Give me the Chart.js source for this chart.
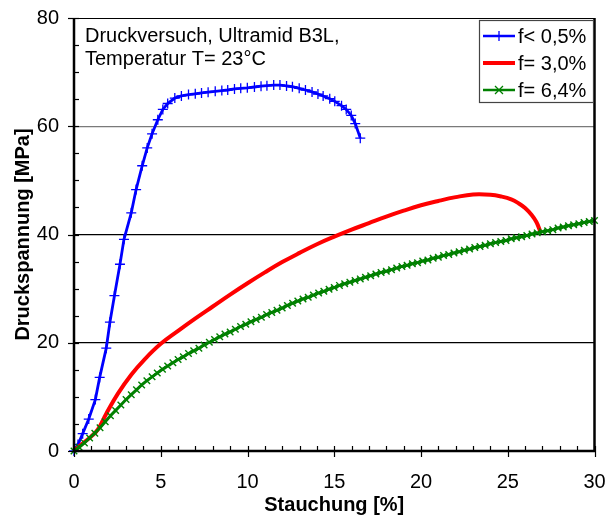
<!DOCTYPE html>
<html>
<head>
<meta charset="utf-8">
<script src="https://cdn.jsdelivr.net/npm/chart.js@4/dist/chart.umd.min.js"></script>
<style>
  html, body { margin: 0; padding: 0; background: #fff; }
  #wrap { width: 615px; height: 517px; }
</style>
</head>
<body>
<div id="wrap"><canvas id="c" width="615" height="517"></canvas></div>
<script>
// ---- Data ----
const seriesNames = ['f< 0,5%', 'f= 3,0%', 'f= 6,4%'];
const annotationLines = ['Druckversuch, Ultramid B3L,', 'Temperatur T= 23°C'];
const xTitle = 'Stauchung [%]';
const yTitle = 'Druckspannung [MPa]';
const xTickLabels = [0, 5, 10, 15, 20, 25, 30];
const yTickLabels = [0, 20, 40, 60, 80];

// f< 0,5 % (blue, + markers)
const blueX = [0, 0.23, 0.5, 0.85, 1.23, 1.48, 1.86, 2.07, 2.33, 2.65, 2.88, 3.3, 3.58, 3.93, 4.22, 4.5, 4.83, 5.12, 5.4, 5.81,
  6.19, 6.6, 6.99, 7.35, 7.73, 8.14, 8.52, 8.86, 9.25, 9.61, 9.99, 10.4, 10.78, 11.12, 11.51, 11.87, 12.25, 12.59, 12.98, 13.34,
  13.72, 14.06, 14.36, 14.74, 15.03, 15.42, 15.69, 15.98, 16.21, 16.5];
const blueY = [0, 1.2, 3.2, 5.9, 9.5, 13.6, 19.0, 23.8, 28.7, 34.5, 39.1, 44.0, 48.3, 52.7, 56.0, 58.6, 61.2, 63.1, 64.2, 65.2,
  65.6, 65.85, 66.0, 66.15, 66.3, 66.45, 66.6, 66.7, 66.9, 67.0, 67.1, 67.25, 67.4, 67.5, 67.6, 67.6, 67.45, 67.3, 67.0, 66.7,
  66.35, 65.95, 65.6, 65.1, 64.6, 63.8, 63.1, 62.0, 60.5, 57.8];

// f= 3,0 % (red, line only)
const redX = [0, 0.42, 1.0, 1.38, 1.86, 2.53, 3.3, 4.06, 5.0, 6.0, 7.0, 8.0, 9.0, 10.0, 11.0, 12.0, 13.0, 14.0, 15.0, 16.0,
  17.0, 18.0, 19.0, 20.0, 21.0, 22.0, 23.0, 24.0, 24.66, 25.2, 25.61, 26.0, 26.38, 26.65, 26.86];
const redY = [0, 1.2, 2.7, 4.0, 6.9, 10.6, 14.1, 16.9, 19.8, 22.2, 24.5, 26.7, 28.9, 31.0, 33.0, 34.9, 36.6, 38.2, 39.6, 40.9,
  42.1, 43.3, 44.4, 45.4, 46.2, 46.9, 47.4, 47.35, 47.0, 46.5, 45.8, 44.9, 43.6, 42.3, 40.7];

// f= 6,4 % (green, x markers)
const greenX = [0, 0.3, 0.6, 0.9, 1.2, 1.5, 1.8, 2.1, 2.4, 2.7, 3.0, 3.3, 3.6, 3.9, 4.2, 4.5, 4.8, 5.1, 5.4, 5.7,
  6.0, 6.3, 6.6, 6.9, 7.2, 7.5, 7.8, 8.1, 8.4, 8.7, 9.0, 9.3, 9.6, 9.9, 10.2, 10.5, 10.8, 11.1, 11.4, 11.7,
  12.0, 12.3, 12.6, 12.9, 13.2, 13.5, 13.8, 14.1, 14.4, 14.7, 15.0, 15.3, 15.6, 15.9, 16.2, 16.5, 16.8, 17.1, 17.4, 17.7,
  18.0, 18.3, 18.6, 18.9, 19.2, 19.5, 19.8, 20.1, 20.4, 20.7, 21.0, 21.3, 21.6, 21.9, 22.2, 22.5, 22.8, 23.1, 23.4, 23.7,
  24.0, 24.3, 24.6, 24.9, 25.2, 25.5, 25.8, 26.1, 26.4, 26.7, 27.0, 27.3, 27.6, 27.9, 28.2, 28.5, 28.8, 29.1, 29.4, 29.7, 30.0];
const greenY = [0, 0.7, 1.5, 2.4, 3.3, 4.3, 5.4, 6.5, 7.5, 8.5, 9.5, 10.4, 11.3, 12.2, 13.0, 13.7, 14.4, 15.1, 15.7, 16.3,
  16.9, 17.4, 18.0, 18.5, 19.0, 19.6, 20.1, 20.6, 21.1, 21.6, 22.0, 22.5, 23.0, 23.4, 23.9, 24.3, 24.7, 25.2, 25.6, 26.0,
  26.4, 26.9, 27.3, 27.7, 28.1, 28.4, 28.8, 29.2, 29.5, 29.9, 30.2, 30.6, 30.9, 31.2, 31.5, 31.8, 32.1, 32.4, 32.7, 33.0,
  33.2, 33.5, 33.8, 34.1, 34.3, 34.6, 34.8, 35.1, 35.3, 35.6, 35.8, 36.1, 36.3, 36.6, 36.8, 37.1, 37.3, 37.6, 37.8, 38.0,
  38.3, 38.5, 38.7, 38.9, 39.2, 39.4, 39.6, 39.8, 40.1, 40.3, 40.5, 40.7, 40.9, 41.2, 41.4, 41.6, 41.8, 42.0, 42.2, 42.4, 42.6];

const toXY = (xs, ys) => xs.map((x, i) => ({ x: x, y: ys[i] }));

const FONT = "'Liberation Sans', Arial, sans-serif";
Chart.defaults.font.family = FONT;
Chart.defaults.font.size = 20;
Chart.defaults.color = '#000';

const COLORS = ['#0000FF', '#FF0000', '#008000'];

const decorPlugin = {
  id: 'decor',
  afterDraw(chart) {
    const ctx = chart.ctx;
    const xs = chart.scales.x, ys = chart.scales.y;
    const a = chart.chartArea;
    ctx.save();
    // frame
    ctx.strokeStyle = '#000';
    ctx.lineWidth = 1.2;
    ctx.beginPath(); ctx.moveTo(a.left, a.top + 0.5); ctx.lineTo(a.right, a.top + 0.5); ctx.stroke();
    ctx.lineWidth = 2.5;
    ctx.beginPath();
    ctx.moveTo(a.left, a.top); ctx.lineTo(a.left, a.bottom); ctx.lineTo(a.right, a.bottom); ctx.lineTo(a.right, a.top);
    ctx.stroke();
    // tick marks
    ctx.lineWidth = 1.2;
    for (let v = 0; v <= 80; v += 5) {
      const p = Math.round(ys.getPixelForValue(v)) + 0.5;
      const major = yTickLabels.includes(v);
      ctx.beginPath();
      ctx.moveTo(a.left - (major ? 6 : 0), p);
      ctx.lineTo(a.left + 5, p);
      ctx.stroke();
    }
    for (let v = 0; v <= 30; v += 1) {
      const p = Math.round(xs.getPixelForValue(v)) + 0.5;
      const major = xTickLabels.includes(v);
      ctx.beginPath();
      ctx.moveTo(p, a.bottom - 5);
      ctx.lineTo(p, a.bottom + (major ? 6 : 0));
      ctx.stroke();
    }
    // annotation text
    ctx.fillStyle = '#000';
    ctx.font = '20px ' + FONT;
    ctx.textBaseline = 'middle';
    ctx.textAlign = 'left';
    ctx.fillText(annotationLines[0], 85, 36);
    ctx.fillText(annotationLines[1], 85, 59);
    // legend box
    const bx = 479.5, by = 20.5, bw = 114, bh = 82;
    ctx.fillStyle = '#fff';
    ctx.fillRect(bx, by, bw, bh);
    ctx.strokeStyle = '#444';
    ctx.lineWidth = 1.2;
    ctx.strokeRect(bx, by, bw, bh);
    const rowY = [36, 63, 90];
    const lw = [2.5, 4, 2.5];
    for (let i = 0; i < 3; i++) {
      const y = rowY[i];
      ctx.strokeStyle = COLORS[i];
      ctx.lineWidth = lw[i];
      ctx.beginPath(); ctx.moveTo(483, y); ctx.lineTo(515, y); ctx.stroke();
      ctx.lineWidth = 1.3;
      if (i === 0) {
        ctx.beginPath(); ctx.moveTo(499, y - 5); ctx.lineTo(499, y + 5); ctx.moveTo(494, y); ctx.lineTo(504, y); ctx.stroke();
      } else if (i === 2) {
        ctx.beginPath(); ctx.moveTo(495, y - 4); ctx.lineTo(503, y + 4); ctx.moveTo(503, y - 4); ctx.lineTo(495, y + 4); ctx.stroke();
      }
      ctx.fillStyle = '#000';
      ctx.fillText(seriesNames[i], 518, y + 1);
    }
    ctx.restore();
  }
};

new Chart(document.getElementById('c'), {
  type: 'scatter',
  data: {
    datasets: [
      {
        label: seriesNames[0], data: toXY(blueX, blueY), showLine: true,
        borderColor: COLORS[0], backgroundColor: COLORS[0], borderWidth: 2.8,
        pointStyle: 'cross', pointRadius: 5, pointBorderWidth: 1.3, pointBorderColor: COLORS[0],
        tension: 0, order: 2, clip: false
      },
      {
        label: seriesNames[1], data: toXY(redX, redY), showLine: true,
        borderColor: COLORS[1], backgroundColor: COLORS[1], borderWidth: 4,
        pointRadius: 0, tension: 0.4, order: 1, clip: false
      },
      {
        label: seriesNames[2], data: toXY(greenX, greenY), showLine: true,
        borderColor: COLORS[2], backgroundColor: COLORS[2], borderWidth: 3,
        pointStyle: 'crossRot', pointRadius: 4.6, pointBorderWidth: 1.4, pointBorderColor: COLORS[2],
        tension: 0, order: 0, clip: false
      }
    ]
  },
  options: {
    responsive: false,
    animation: false,
    events: [],
    layout: { padding: { top: 18, right: 20.5, left: 0, bottom: 0 } },
    plugins: { legend: { display: false }, tooltip: { enabled: false } },
    scales: {
      x: {
        type: 'linear', min: 0, max: 30,
        grid: { display: false },
        border: { display: false },
        ticks: {
          stepSize: 1, autoSkip: false, maxRotation: 0, padding: 11,
          callback: v => (xTickLabels.includes(v) ? String(v) : '')
        },
        title: { display: true, text: xTitle, font: { weight: 'bold', size: 20 }, padding: { top: 0, bottom: 0 } },
        afterFit: s => { s.height = 66; s.paddingLeft = 0; s.paddingRight = 0; }
      },
      y: {
        type: 'linear', min: 0, max: 80,
        grid: {
          drawTicks: false,
          lineWidth: 1.2,
          color: c => {
            const v = c.tick && c.tick.value;
            if (v === 20 || v === 40) return '#000';
            if (v === 60) return '#7a7a7a';
            return 'rgba(0,0,0,0)';
          }
        },
        border: { display: false },
        ticks: {
          stepSize: 5, autoSkip: false, padding: 15,
          callback: v => (yTickLabels.includes(v) ? String(v) : '')
        },
        title: { display: true, text: yTitle, font: { weight: 'bold', size: 20 }, padding: { top: 11, bottom: 0 } },
        afterFit: s => { s.width = 74; s.paddingTop = 0; s.paddingBottom = 0; }
      }
    }
  },
  plugins: [decorPlugin]
});
</script>
</body>
</html>
